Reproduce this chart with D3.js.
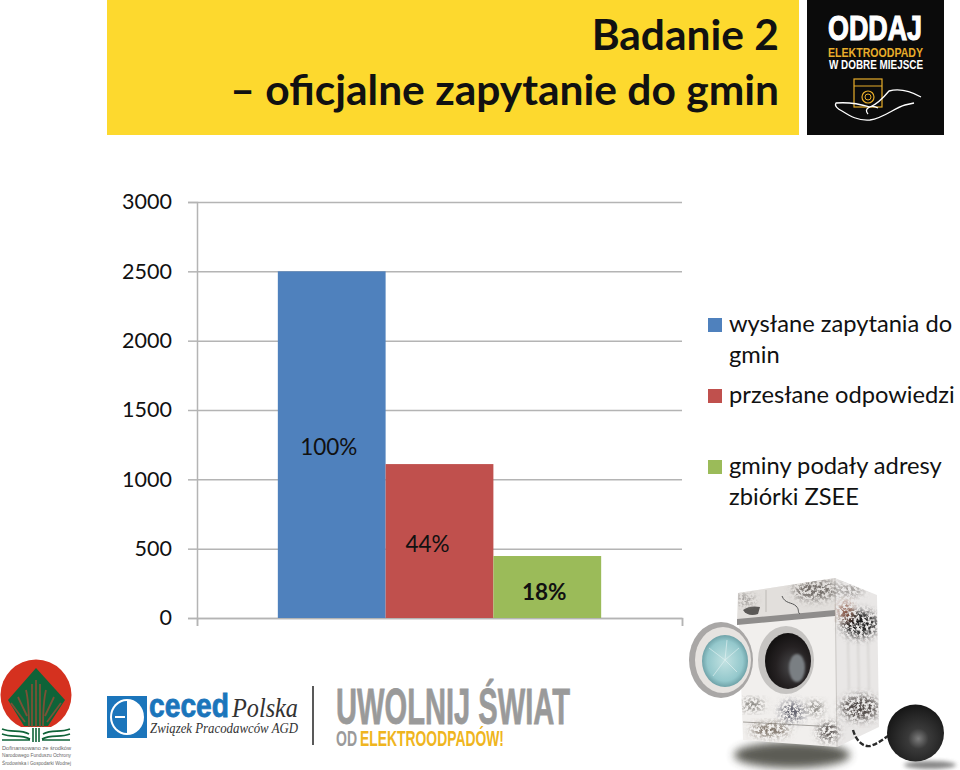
<!DOCTYPE html>
<html>
<head>
<meta charset="utf-8">
<script src="https://cdn.jsdelivr.net/npm/d3@7"></script>
<style>
  html, body { margin: 0; padding: 0; background: #fff; }
  svg { display: block; font-family: Lato, "Open Sans", sans-serif; }
</style>
</head>
<body>
<div id="chart"></div>
<script>
// Chart data
const seriesNames = ["wysłane zapytania do gmin", "przesłane odpowiedzi", "gminy podały adresy zbiórki ZSEE"];
const seriesValues = [2500, 1110, 447];
const seriesLabels = ["100%", "44%", "18%"];
const seriesColors = ["#4f81bd", "#c0504d", "#9bbb59"];
const yTicks = [0, 500, 1000, 1500, 2000, 2500, 3000];
const legendLines = [["wysłane zapytania do", "gmin"], ["przesłane odpowiedzi"], ["gminy podały adresy", "zbiórki ZSEE"]];

const width = 960;
const height = 770;
const plot = { left: 197, right: 682, top: 202, bottom: 618 };

const svg = d3.select("#chart").append("svg")
    .attr("width", width)
    .attr("height", height);

const defs = svg.append("defs");
[["blur1", 0.8], ["blur2", 2], ["blur4", 4], ["blur8", 7]].forEach(([id, s]) => {
    defs.append("filter").attr("id", id)
        .attr("x", "-50%").attr("y", "-50%").attr("width", "200%").attr("height", "200%")
        .append("feGaussianBlur").attr("stdDeviation", s);
});
function radial(id, stops, cx, cy, r) {
    const g = defs.append("radialGradient").attr("id", id)
        .attr("cx", cx).attr("cy", cy).attr("r", r);
    stops.forEach(([o, c]) => g.append("stop").attr("offset", o).attr("stop-color", c));
}
radial("ballGrad", [[0, "#7d7d7d"], [0.3, "#3a3a3a"], [1, "#161616"]], "0.55", "0.6", "0.6");
radial("glassGrad", [[0, "#c2e2e2"], [0.7, "#94c8cc"], [1, "#5f9299"]], "0.5", "0.5", "0.55");
radial("drumGrad", [[0, "#4a4a4c"], [0.6, "#252122"], [1, "#141212"]], "0.6", "0.6", "0.6");

// Speckled dirt: noise used as a mask over a blurred blob
const grime = defs.append("filter").attr("id", "grime")
    .attr("x", "-50%").attr("y", "-50%").attr("width", "200%").attr("height", "200%");
grime.append("feTurbulence").attr("type", "fractalNoise").attr("baseFrequency", 0.35)
    .attr("numOctaves", 3).attr("seed", 5).attr("result", "noise");
grime.append("feColorMatrix").attr("in", "noise").attr("type", "matrix")
    .attr("values", "0 0 0 0 0  0 0 0 0 0  0 0 0 0 0  4 0 0 0 -1.5").attr("result", "mask");
grime.append("feGaussianBlur").attr("in", "SourceGraphic").attr("stdDeviation", 4).attr("result", "soft");
grime.append("feComposite").attr("in", "soft").attr("in2", "mask").attr("operator", "in").attr("result", "speck");
grime.append("feGaussianBlur").attr("in", "speck").attr("stdDeviation", 0.5);

defs.append("clipPath").attr("id", "bodyClip").append("path")
    .attr("d", "M738,593 L835,578 L877,595 L879,727 L837,747 L743,740 Z");

// Scales
const y = d3.scaleLinear().domain([0, 3000]).range([plot.bottom, plot.top]);
const x = d3.scaleBand().domain(seriesNames)
    .range([plot.left, plot.right])
    .paddingInner(0)
    .paddingOuter(0.75);
const color = d3.scaleOrdinal().domain(seriesNames).range(seriesColors);

// Y axis and gridlines
const yAxis = svg.append("g")
    .attr("transform", `translate(${plot.left}, 0)`)
    .call(d3.axisLeft(y).tickValues(yTicks).tickSize(9).tickPadding(16).tickFormat(d3.format("d")));
yAxis.select(".domain").attr("stroke", "#b4b4b4").attr("stroke-width", 1.5);
yAxis.selectAll(".tick line").attr("stroke", "#b4b4b4").attr("stroke-width", 1.5);
yAxis.selectAll(".tick").append("line")
    .attr("x2", plot.right - plot.left)
    .attr("stroke", "#b4b4b4")
    .attr("stroke-width", 1.5);
yAxis.selectAll(".tick text")
    .style("font-family", "Lato, sans-serif")
    .style("font-size", "21.5px")
    .attr("fill", "#111");

// X axis only has the two end ticks
const xEnds = d3.scaleLinear().domain([0, 1]).range([plot.left, plot.right]);
const xAxis = svg.append("g")
    .attr("transform", `translate(0, ${plot.bottom})`)
    .call(d3.axisBottom(xEnds).tickValues([0, 1]).tickSize(8).tickFormat(""));
xAxis.select(".domain").attr("stroke", "#b4b4b4").attr("stroke-width", 1.5);
xAxis.selectAll(".tick line").attr("stroke", "#b4b4b4").attr("stroke-width", 1.5);

// Bars
const bars = seriesNames.map((name, i) => ({ name, value: seriesValues[i], label: seriesLabels[i] }));
svg.selectAll(".bar").data(bars).enter().append("rect")
    .attr("class", "bar")
    .attr("x", d => x(d.name))
    .attr("y", d => y(d.value))
    .attr("width", x.bandwidth())
    .attr("height", d => y(0) - y(d.value))
    .attr("fill", d => color(d.name));

// Labels sit near the middle of each bar, nudged by hand
const labelShift = [[-3, 2], [-12, 3], [-3, 5]];
svg.selectAll(".bar-label").data(bars).enter().append("text")
    .attr("class", "bar-label")
    .attr("x", (d, i) => x(d.name) + x.bandwidth() / 2 + labelShift[i][0])
    .attr("y", (d, i) => y(d.value / 2) + labelShift[i][1])
    .attr("dy", "0.36em")
    .attr("text-anchor", "middle")
    .style("font-size", "22.5px")
    .style("font-weight", (d, i) => i === 2 ? 700 : 400)
    .attr("fill", "#111")
    .text(d => d.label);

// Legend
const legendTop = [332, 403, 474];
const legend = svg.selectAll(".legend-item").data(seriesNames).enter().append("g")
    .attr("class", "legend-item")
    .attr("transform", (d, i) => `translate(708, ${legendTop[i]})`);
legend.append("rect")
    .attr("y", -14).attr("width", 14).attr("height", 14)
    .attr("fill", d => color(d));
legend.each(function (d, i) {
    d3.select(this).selectAll("text").data(legendLines[i]).enter().append("text")
        .attr("x", 21)
        .attr("y", (t, j) => j * 31)
        .style("font-size", "23.7px")
        .attr("fill", "#111")
        .text(t => t);
});

// Title banner
svg.append("rect").attr("x", 107).attr("y", 0).attr("width", 692).attr("height", 135).attr("fill", "#fdd92e");
svg.append("text").attr("x", 779).attr("y", 50).attr("text-anchor", "end")
    .style("font-size", "42.5px").style("font-weight", 700).attr("fill", "#111").text("Badanie 2");
svg.append("text").attr("x", 779).attr("y", 105).attr("text-anchor", "end")
    .style("font-size", "42.5px").style("font-weight", 700).attr("fill", "#111").text("– oficjalne zapytanie do gmin");

// Black logo, top right
const narrow = "'Liberation Sans Narrow', 'Liberation Sans', sans-serif";
const oddaj = svg.append("g");
oddaj.append("rect").attr("x", 807).attr("y", 0).attr("width", 137).attr("height", 135).attr("fill", "#0b0b0b");
function logoText(g, txt, xPos, yPos, size, len, fill, family, heavy) {
    return g.append("text").attr("x", xPos).attr("y", yPos)
        .attr("textLength", len).attr("lengthAdjust", "spacingAndGlyphs")
        .style("font-family", family || narrow).style("font-size", size + "px")
        .style("font-weight", 700).attr("fill", fill)
        .attr("stroke", heavy ? fill : "none").attr("stroke-width", heavy || 0)
        .text(txt);
}
logoText(oddaj, "ODDAJ", 828, 40, 35, 94, "#fff", null, 1.2);
logoText(oddaj, "ELEKTROODPADY", 828, 57, 13, 95, "#e8ad2a");
logoText(oddaj, "W DOBRE MIEJSCE", 829, 69, 13, 94, "#fff");
oddaj.append("rect").attr("x", 854).attr("y", 79).attr("width", 28).attr("height", 28)
    .attr("fill", "none").attr("stroke", "#e8ad2a").attr("stroke-width", 1.2);
oddaj.append("line").attr("x1", 854).attr("x2", 882).attr("y1", 86).attr("y2", 86)
    .attr("stroke", "#e8ad2a").attr("stroke-width", 1);
oddaj.append("circle").attr("cx", 868).attr("cy", 97).attr("r", 6)
    .attr("fill", "none").attr("stroke", "#e8ad2a").attr("stroke-width", 1.2);
oddaj.append("circle").attr("cx", 868).attr("cy", 97).attr("r", 3)
    .attr("fill", "none").attr("stroke", "#e8ad2a").attr("stroke-width", 1);
oddaj.append("path")
    .attr("d", "M921,97 C912,92 900,88 889,91 C884,97 878,104 870,107 C860,104 848,102 836,103 C834,106 838,109 842,111 C850,116 858,121 870,120 C884,118 894,108 905,105 L914,103 M868,114 C863,109 871,104 878,108")
    .attr("fill", "none").attr("stroke", "#fff").attr("stroke-width", 1.3);

// NFOS logo, bottom left
const nfos = svg.append("g");
nfos.append("circle").attr("cx", 36).attr("cy", 695).attr("r", 35.5).attr("fill", "#d5311f");
nfos.append("path").attr("d", "M36,668 L65,700 L48,726 L24,726 L8,700 Z").attr("fill", "#0f6338");
nfos.append("path")
    .attr("d", "M36,680 V730 M32,684 V730 M40,684 V730 M26,690 C29,702 29,715 29,730 M46,690 C43,702 43,715 43,730 M18,697 L27,716 M54,697 L45,716 M11,703 L25,722 M61,703 L47,722")
    .attr("fill", "none").attr("stroke", "#7a5136").attr("stroke-width", 1.8);
nfos.append("rect").attr("x", 0).attr("y", 727).attr("width", 73).attr("height", 17).attr("fill", "#fff");
nfos.append("path")
    .attr("d", "M2,729 C12,733 20,729 29,734 M70,729 C60,733 52,729 43,734 M2,734 C12,738 20,734 30,739 M70,734 C60,738 52,734 42,739 M2,740 H30 M70,740 H42 M33,728 V742 M36,728 V742 M39,728 V742")
    .attr("fill", "none").attr("stroke", "#0f6338").attr("stroke-width", 1.6);
["Dofinansowano ze środków", "Narodowego Funduszu Ochrony", "Środowiska i Gospodarki Wodnej"].forEach((t, i) => {
    nfos.append("text").attr("x", 2).attr("y", 750 + i * 7.3)
        .attr("textLength", 69).attr("lengthAdjust", "spacingAndGlyphs")
        .style("font-family", "'Liberation Sans', sans-serif").style("font-size", "6px")
        .attr("fill", "#666").text(t);
});

// ceced logo
const ceced = svg.append("g");
ceced.append("rect").attr("x", 107).attr("y", 696).attr("width", 40).attr("height", 42).attr("fill", "#1b75bb");
ceced.append("ellipse").attr("cx", 127).attr("cy", 717).attr("rx", 17).attr("ry", 18).attr("fill", "#fff");
ceced.append("path").attr("d", "M127,701 A15,16 0 0 0 127,733 Z").attr("fill", "#1b75bb");
ceced.append("path").attr("d", "M115,717 H125").attr("stroke", "#fff").attr("stroke-width", 2);
logoText(ceced, "ceced", 149, 717, 33, 80, "#1b75bb", "'Liberation Sans', sans-serif", 0.8);
ceced.append("text").attr("x", 232).attr("y", 717)
    .attr("textLength", 66).attr("lengthAdjust", "spacingAndGlyphs")
    .style("font-family", "'Liberation Serif', serif").style("font-style", "italic").style("font-size", "27px")
    .attr("fill", "#333").text("Polska");
ceced.append("text").attr("x", 150).attr("y", 733)
    .attr("textLength", 148).attr("lengthAdjust", "spacingAndGlyphs")
    .style("font-family", "'Liberation Serif', serif").style("font-style", "italic").style("font-size", "14px")
    .attr("fill", "#333").text("Związek Pracodawców AGD");
svg.append("line").attr("x1", 313).attr("x2", 313).attr("y1", 686).attr("y2", 745)
    .attr("stroke", "#222").attr("stroke-width", 1.5);

// Campaign slogan
const slogan = svg.append("g");
logoText(slogan, "UWOLNIJ ŚWIAT", 336, 724, 50, 234, "#9a9a9a", null, 0.8);
logoText(slogan, "OD", 336, 746, 22, 21, "#9a9a9a");
logoText(slogan, "ELEKTROODPADÓW!", 360, 746, 22, 144, "#efb520");

// Washing machine illustration
const wm = svg.append("g");
wm.append("ellipse").attr("cx", 792).attr("cy", 755).attr("rx", 58).attr("ry", 13)
    .attr("fill", "#3f3f38").attr("opacity", 0.85).attr("filter", "url(#blur4)");
wm.append("ellipse").attr("cx", 930).attr("cy", 765).attr("rx", 26).attr("ry", 4)
    .attr("fill", "#555").attr("opacity", 0.7).attr("filter", "url(#blur2)");
// side panel and front panel
wm.append("path").attr("d", "M835,578 L877,595 L879,727 L837,747 Z").attr("fill", "#e9e7e6");
wm.append("path").attr("d", "M738,593 L835,578 L837,747 L743,740 Z").attr("fill", "#f1efed");
wm.append("path").attr("d", "M738,593 L835,578 L835,612 L737,622 Z").attr("fill", "#e2dfdc");
wm.append("path").attr("d", "M737,619 L835,610 L835,616 L737,625 Z").attr("fill", "#8f8d8c");
wm.append("path").attr("d", "M743,722 L837,727").attr("stroke", "#a5a29e").attr("stroke-width", 1);
wm.append("path").attr("d", "M766,590 V612").attr("stroke", "#bdbab6").attr("stroke-width", 1);
wm.append("path").attr("d", "M835,578 L837,747").attr("stroke", "#c9c6c3").attr("stroke-width", 1);
wm.append("path").attr("d", "M848,640 L849,690 M858,640 L859,690 M868,640 L869,690")
    .attr("stroke", "#d2d0ce").attr("stroke-width", 1.5).attr("filter", "url(#blur1)");
wm.append("path").attr("d", "M743,610 C748,606 755,606 760,607 L758,614 C752,616 746,615 743,610 Z").attr("fill", "#5a5856");
wm.append("path").attr("d", "M782,596 C785,604 792,602 796,606 C800,610 797,612 800,614")
    .attr("fill", "none").attr("stroke", "#555").attr("stroke-width", 1);
// dirt patches
const dirt = wm.append("g").attr("clip-path", "url(#bodyClip)");
[[860, 624, 18, 13, "#1f1b1b"], [846, 612, 6, 10, "#7a3f2c"], [860, 708, 19, 12, "#4f4a46"],
 [792, 712, 12, 10, "#5e5f6a"], [770, 730, 19, 6, "#6a5f52"], [815, 590, 22, 10, "#6f6a66"],
 [752, 705, 12, 5, "#6c6964"], [828, 732, 10, 9, "#4f4a46"], [815, 708, 8, 6, "#6c6964"],
 [850, 590, 14, 5, "#8a8683"], [745, 600, 10, 5, "#8a8683"]].forEach(([cx, cy, rx, ry, fill]) => {
    dirt.append("ellipse").attr("cx", cx).attr("cy", cy).attr("rx", rx).attr("ry", ry)
        .attr("fill", fill).attr("filter", "url(#grime)");
});
// porthole
wm.append("ellipse").attr("cx", 786).attr("cy", 660).attr("rx", 28).attr("ry", 34).attr("fill", "#c6c4c2");
wm.append("ellipse").attr("cx", 788).attr("cy", 661).attr("rx", 23).attr("ry", 28).attr("fill", "url(#drumGrad)");
wm.append("ellipse").attr("cx", 797).attr("cy", 668).attr("rx", 8).attr("ry", 14).attr("fill", "#7a7f83").attr("filter", "url(#blur1)");
// open door
wm.append("ellipse").attr("cx", 721).attr("cy", 660).attr("rx", 32).attr("ry", 38).attr("fill", "#a9a7a6");
wm.append("ellipse").attr("cx", 723).attr("cy", 660).attr("rx", 28).attr("ry", 33).attr("fill", "#e6e3e0");
wm.append("ellipse").attr("cx", 725).attr("cy", 661).attr("rx", 23).attr("ry", 26).attr("fill", "url(#glassGrad)");
wm.append("path").attr("d", "M725,660 L709,648 M725,660 L739,648 M725,660 L737,672 M725,660 L713,676 M725,660 L727,640")
    .attr("stroke", "#e6f3f3").attr("stroke-width", 0.6);
// chain and ball
wm.append("path").attr("d", "M853,730 C856,740 862,747 870,746 C878,744 884,738 893,733")
    .attr("fill", "none").attr("stroke", "#2a2a2a").attr("stroke-width", 2.4).attr("stroke-dasharray", "5 2");
wm.append("circle").attr("cx", 915.5).attr("cy", 733).attr("r", 28.5).attr("fill", "url(#ballGrad)");

</script>
</body>
</html>
